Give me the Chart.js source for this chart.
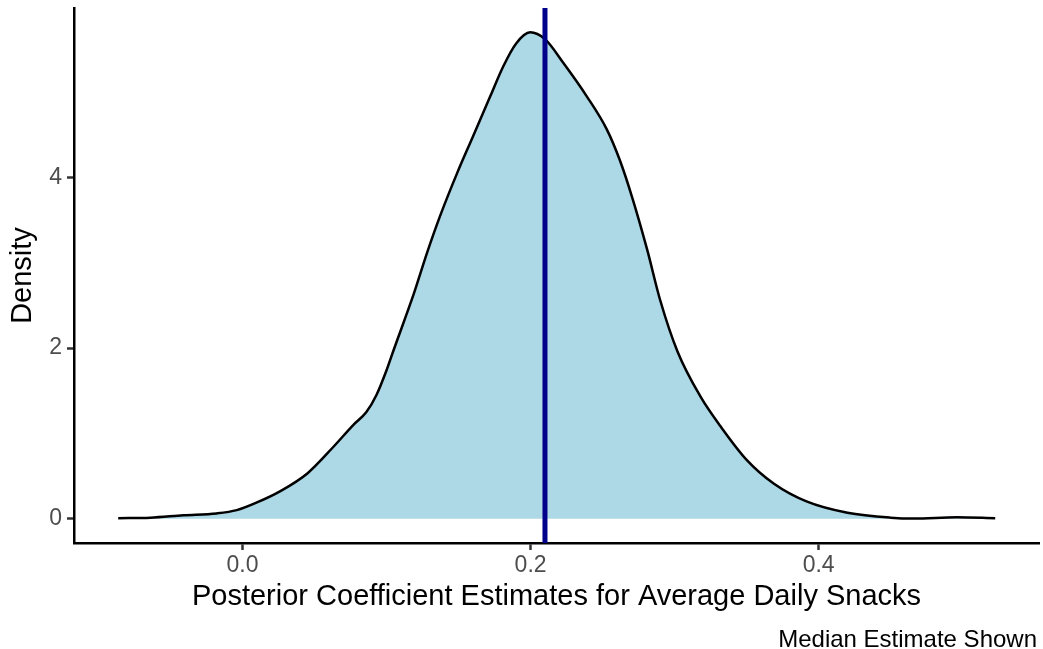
<!DOCTYPE html>
<html>
<head>
<meta charset="utf-8">
<script src="https://cdn.jsdelivr.net/npm/chart.js@4/dist/chart.umd.min.js"></script>
<style>
  html, body { margin: 0; padding: 0; background: #ffffff; }
  #wrap { width: 1043px; height: 649px; }
</style>
</head>
<body>
<div id="wrap"><canvas id="chart" width="1043" height="649"></canvas></div>
<script>
// Posterior draws of the snacks coefficient, summarised as a density curve
const estimateGrid = [
  -0.0863, -0.064, -0.041, -0.018, -0.004, 0.010, 0.026, 0.045, 0.063, 0.077,
  0.086, 0.093, 0.100, 0.105, 0.119, 0.128, 0.137, 0.149, 0.160, 0.172,
  0.181, 0.190, 0.1997, 0.210, 0.2228, 0.239, 0.253, 0.262, 0.271, 0.281,
  0.290, 0.302, 0.318, 0.332, 0.350, 0.369, 0.392, 0.420, 0.450, 0.466,
  0.496, 0.5226
];
const densityValues = [
  0.005, 0.012, 0.040, 0.062, 0.100, 0.190, 0.320, 0.530, 0.840, 1.100,
  1.250, 1.450, 1.740, 1.980, 2.640, 3.110, 3.540, 4.050, 4.480, 4.950,
  5.300, 5.570, 5.700, 5.620, 5.340, 4.950, 4.560, 4.200, 3.740, 3.150,
  2.560, 1.960, 1.430, 1.080, 0.690, 0.410, 0.200, 0.070, 0.012, 0.002,
  0.016, 0.005
];
const medianEstimate = 0.21;

const xTicks = [0.0, 0.2, 0.4];
const yTicks = [0, 2, 4];
const xLimits = [-0.117, 0.553];
const yLimits = [-0.285, 5.985];

const xTitle = 'Posterior Coefficient Estimates for Average Daily Snacks';
const yTitle = 'Density';
const captionText = 'Median Estimate Shown';

const FONT = '"Liberation Sans", Arial, Helvetica, sans-serif';

const densityPoints = estimateGrid.map((x, i) => ({ x: x, y: densityValues[i] }));
const medianPoints = yLimits.map(y => ({ x: medianEstimate, y: y }));

// caption under the x-axis title, right-aligned to the panel
const captionPlugin = {
  id: 'caption',
  afterDraw(chart) {
    const ctx = chart.ctx;
    ctx.save();
    ctx.font = '24px ' + FONT;
    ctx.fillStyle = '#000000';
    ctx.textAlign = 'right';
    ctx.textBaseline = 'alphabetic';
    ctx.fillText(captionText, chart.chartArea.right - 2, 647);
    ctx.restore();
  }
};

new Chart(document.getElementById('chart'), {
  type: 'scatter',
  data: {
    datasets: [
      {
        label: 'median',
        data: medianPoints,
        showLine: true,
        borderColor: '#00008B',
        borderWidth: 5,
        pointRadius: 0,
        fill: false,
        order: 0
      },
      {
        label: 'density',
        data: densityPoints,
        showLine: true,
        borderColor: '#000000',
        borderWidth: 2.5,
        backgroundColor: '#ADD8E6',
        pointRadius: 0,
        fill: 'origin',
        cubicInterpolationMode: 'monotone',
        order: 1
      }
    ]
  },
  options: {
    responsive: false,
    animation: false,
    devicePixelRatio: 1,
    layout: { padding: { top: 8, right: 4, bottom: 0, left: 0 } },
    plugins: {
      legend: { display: false },
      tooltip: { enabled: false }
    },
    scales: {
      x: {
        type: 'linear',
        min: xLimits[0],
        max: xLimits[1],
        afterBuildTicks: s => { s.ticks = xTicks.map(v => ({ value: v })); },
        afterFit: s => { s.height = 106; s.paddingLeft = 0; s.paddingRight = 0; },
        border: { display: true, color: '#000000', width: 2.5 },
        grid: {
          display: true,
          drawOnChartArea: false,
          drawTicks: true,
          tickLength: 7,
          tickColor: '#333333',
          tickWidth: 2.5
        },
        ticks: {
          padding: 2,
          color: '#4D4D4D',
          font: { family: FONT, size: 23 },
          maxRotation: 0,
          callback: v => Number(v).toFixed(1)
        },
        title: {
          display: true,
          text: xTitle,
          color: '#000000',
          font: { family: FONT, size: 29 },
          padding: { top: 0, bottom: 35 }
        }
      },
      y: {
        type: 'linear',
        min: yLimits[0],
        max: yLimits[1],
        afterBuildTicks: s => { s.ticks = yTicks.map(v => ({ value: v })); },
        afterFit: s => { s.width = 74; s.paddingTop = 0; s.paddingBottom = 0; },
        border: { display: true, color: '#000000', width: 2.5 },
        grid: {
          display: true,
          drawOnChartArea: false,
          drawTicks: true,
          tickLength: 7,
          tickColor: '#333333',
          tickWidth: 2.5
        },
        ticks: {
          padding: 5,
          color: '#4D4D4D',
          font: { family: FONT, size: 23 },
          callback: v => String(v)
        },
        title: {
          display: true,
          text: yTitle,
          color: '#000000',
          font: { family: FONT, size: 29 },
          padding: { top: 5.6, bottom: 0 }
        }
      }
    }
  },
  plugins: [captionPlugin]
});
</script>
</body>
</html>
